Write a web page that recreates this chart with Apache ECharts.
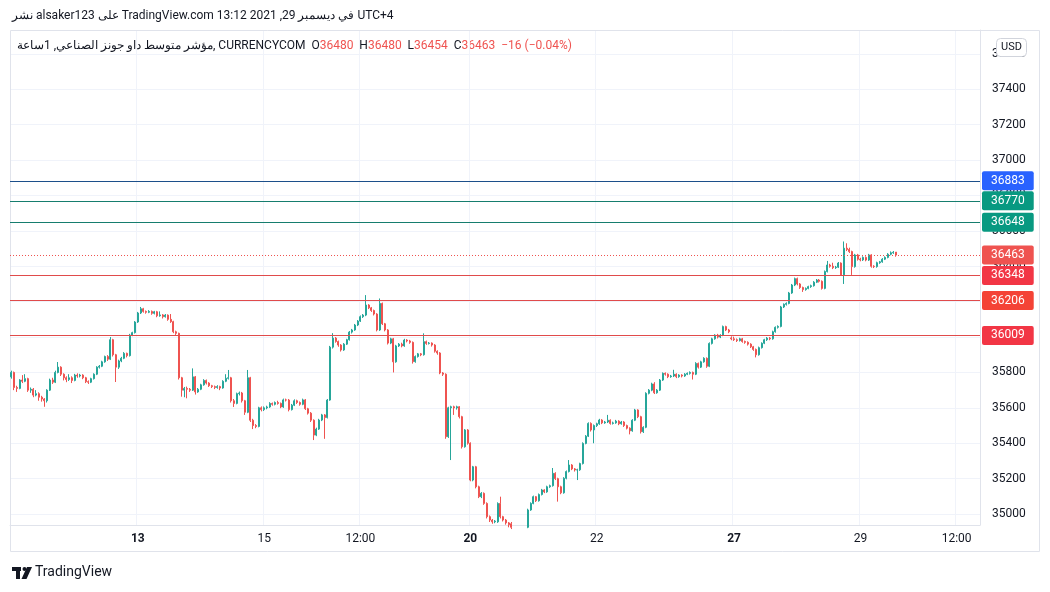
<!DOCTYPE html>
<html><head><meta charset="utf-8">
<script src="https://cdn.jsdelivr.net/npm/echarts@6/dist/echarts.min.js"></script>
<style>html,body{margin:0;padding:0;background:#fff}#c{width:1050px;height:592px}</style>
</head><body><div id="c"></div>
<script>
// [open, close, low, high] per 1-hour bar
const dec9 = [[35775,35800,35765,35810],[35800,35715,35700,35805],[35715,35710,35690,35725],[35710,35757,35705,35762],[35757,35750,35740,35785],[35750,35765,35745,35790],[35765,35700,35690,35770],[35700,35705,35685,35715],[35705,35672,35660,35712],[35672,35680,35665,35700],[35680,35660,35640,35688],[35660,35650,35635,35668],[35650,35640,35606,35655],[35640,35700,35630,35705],[35700,35757,35695,35765],[35757,35745,35735,35770],[35745,35800,35740,35810],[35800,35830,35795,35859],[35830,35790,35780,35835],[35790,35770,35755,35795],[35770,35760,35745,35778],[35760,35770,35752,35790],[35770,35755,35740,35778]];
const dec10 = [[35755,35785,35750,35792],[35785,35780,35770,35795],[35780,35785,35772,35792],[35785,35770,35762,35790],[35770,35748,35740,35775],[35748,35745,35735,35755],[35745,35765,35740,35770],[35765,35790,35760,35795],[35790,35830,35785,35835],[35830,35835,35822,35842],[35835,35860,35830,35866],[35860,35890,35855,35895],[35890,35875,35865,35898],[35875,35985,35870,36000],[35985,35900,35890,35990],[35900,35830,35746,35905],[35830,35865,35820,35872],[35865,35880,35858,35888],[35880,35908,35875,35915],[35908,35895,35885,35912],[35895,36011,35890,36018],[36011,36025,36005,36030],[36025,36085,36020,36090]];
const dec13 = [[36085,36136,36080,36142],[36136,36160,36130,36170],[36160,36145,36138,36165],[36145,36140,36132,36150],[36140,36145,36135,36152],[36145,36134,36126,36150],[36134,36143,36128,36148],[36143,36120,36112,36148],[36120,36125,36115,36145],[36125,36115,36105,36130],[36115,36124,36110,36130],[36124,36100,36092,36128],[36100,36087,36080,36130],[36087,36030,36022,36092],[36030,36021,36012,36036],[36021,35770,35760,36025],[35770,35700,35663,35775],[35700,35710,35660,35718],[35710,35705,35654,35720],[35705,35700,35690,35712],[35700,35775,35695,35823],[35775,35690,35675,35780],[35690,35705,35685,35712]];
const dec14 = [[35705,35730,35700,35736],[35730,35755,35725,35762],[35755,35740,35732,35760],[35740,35725,35718,35745],[35725,35720,35712,35730],[35720,35715,35706,35726],[35715,35720,35708,35728],[35720,35712,35700,35725],[35712,35750,35708,35756],[35750,35767,35745,35790],[35767,35770,35760,35814],[35770,35640,35630,35775],[35640,35625,35605,35650],[35625,35680,35620,35686],[35680,35684,35670,35692],[35684,35640,35630,35690],[35640,35575,35560,35645],[35575,35770,35570,35814],[35770,35530,35520,35775],[35530,35500,35480,35538],[35500,35495,35485,35508],[35495,35600,35490,35606],[35600,35590,35580,35608]];
const dec15 = [[35590,35600,35582,35608],[35600,35605,35592,35612],[35605,35625,35600,35632],[35625,35620,35612,35630],[35620,35630,35614,35636],[35630,35625,35618,35640],[35625,35605,35598,35630],[35605,35645,35600,35652],[35645,35644,35636,35652],[35644,35590,35580,35650],[35590,35615,35585,35622],[35615,35640,35610,35648],[35640,35630,35622,35646],[35630,35620,35612,35636],[35620,35645,35615,35652],[35645,35595,35588,35650],[35595,35570,35562,35600],[35570,35530,35520,35576],[35530,35446,35418,35535],[35446,35480,35440,35488],[35480,35531,35475,35538],[35531,35560,35525,35566],[35560,35545,35425,35565]];
const dec16 = [[35545,35644,35540,35650],[35644,35943,35640,35950],[35943,35994,35935,36022],[35994,35975,35968,36000],[35975,35955,35945,35980],[35955,35927,35918,35960],[35927,35960,35922,35966],[35960,35985,35955,35990],[35985,36028,35980,36034],[36028,36040,36020,36046],[36040,36068,36035,36074],[36068,36090,36062,36096],[36090,36115,36085,36122],[36115,36124,36108,36130],[36124,36181,36118,36237],[36181,36165,36158,36186],[36165,36150,36142,36170],[36150,36130,36122,36155],[36130,36040,36032,36135],[36040,36190,36035,36218],[36190,36075,36068,36195],[36075,36040,36032,36080],[36040,35966,35958,36045]];
const dec17 = [[35966,35990,35960,35996],[35990,35860,35800,35995],[35860,35950,35855,35956],[35950,35960,35944,35966],[35960,35950,35942,35968],[35950,35983,35945,35990],[35983,35978,35970,35988],[35978,35970,35962,35984],[35970,35861,35850,35975],[35861,35890,35855,35896],[35890,35905,35884,35910],[35905,35900,35892,35910],[35900,35974,35895,36021],[35974,35964,35956,35980],[35964,35966,35958,35972],[35966,35955,35946,35970],[35955,35920,35912,35960],[35920,35910,35900,35925],[35910,35797,35790,35915],[35797,35790,35780,35802],[35790,35437,35425,35795],[35437,35600,35430,35606],[35600,35606,35305,35612]];
const dec19 = [[35606,35600,35560,35612],[35600,35606,35590,35612],[35606,35550,35540,35610],[35550,35380,35370,35555],[35380,35475,35375,35480],[35475,35400,35392,35480]];
const dec20 = [[35400,35192,35185,35405],[35192,35267,35185,35272],[35267,35154,35145,35272],[35154,35098,35090,35160],[35098,35117,35090,35124],[35117,35060,35052,35122],[35060,34985,34975,35066],[34985,34966,34955,34992],[34966,34956,34945,34972],[34956,34960,34948,34966],[34956,35060,34950,35066],[35060,34985,34975,35098],[34985,34966,34958,34990],[34966,34950,34940,34972],[34950,34940,34925,34955],[34945,34925,34915,34955],[34925,34890,34880,34928],[34890,34860,34850,34895],[34860,34880,34850,34885],[34880,34900,34872,34905],[34900,34925,34895,34932],[34925,35023,34920,35030],[35023,35060,35018,35066]];
const dec21 = [[35060,35098,35055,35104],[35098,35075,35068,35102],[35075,35110,35070,35116],[35110,35136,35105,35142],[35136,35125,35118,35140],[35125,35154,35120,35160],[35154,35160,35148,35166],[35160,35230,35155,35260],[35230,35200,35192,35236],[35200,35154,35070,35205],[35154,35120,35112,35160],[35120,35202,35115,35208],[35202,35240,35196,35246],[35240,35277,35235,35305],[35277,35255,35248,35282],[35255,35249,35240,35260],[35249,35250,35192,35256],[35250,35285,35244,35290],[35285,35399,35280,35405],[35399,35440,35394,35446],[35440,35512,35435,35518],[35512,35475,35466,35518],[35475,35500,35400,35506]];
const dec22 = [[35500,35510,35492,35516],[35510,35531,35504,35538],[35531,35515,35508,35536],[35515,35520,35510,35526],[35520,35530,35514,35560],[35530,35512,35505,35535],[35512,35515,35506,35522],[35515,35525,35510,35532],[35525,35510,35502,35530],[35510,35520,35505,35526],[35520,35500,35492,35525],[35500,35485,35478,35505],[35485,35470,35450,35490],[35470,35530,35465,35536],[35530,35588,35525,35594],[35588,35550,35542,35592],[35550,35465,35455,35555],[35465,35490,35458,35496],[35490,35682,35485,35688],[35682,35700,35676,35706],[35700,35735,35694,35742],[35735,35685,35678,35745],[35685,35700,35680,35706]];
const dec23 = [[35700,35757,35695,35763],[35757,35795,35752,35800],[35795,35790,35782,35800],[35790,35776,35768,35795],[35776,35780,35770,35786],[35780,35790,35774,35815],[35790,35776,35768,35795],[35776,35785,35770,35790],[35785,35780,35772,35790],[35780,35790,35775,35796],[35790,35795,35785,35800],[35795,35800,35788,35806],[35800,35790,35760,35805],[35790,35851,35785,35858],[35851,35830,35822,35856],[35830,35860,35825,35866],[35860,35880,35855,35886],[35880,35835,35826,35885],[35835,35964,35830,35970],[35964,35990,35958,35996],[35990,36011,35985,36016],[36011,36000,35992,36018],[36000,36010,35994,36016]];
const dec24 = [[36010,36059,36005,36065],[36059,36040,36034,36064],[36040,36030,36022,36046],[35995,35990,35982,36004]];
const dec27 = [[35990,35985,35978,36002],[35985,35980,35972,35992],[35980,35990,35975,35996],[35990,35975,35968,35995],[35975,35970,35962,35980],[35970,35960,35952,35976],[35960,35945,35938,35965],[35945,35930,35922,35950],[35930,35900,35885,35935],[35900,35940,35895,35946],[35940,35965,35935,35970],[35965,35985,35960,35990],[35985,35994,35978,36000],[35994,35990,35982,36000],[35990,36030,35985,36036],[36030,36055,36025,36060],[36055,36060,36048,36066],[36060,36170,36055,36176],[36170,36185,36164,36190],[36185,36190,36178,36196],[36190,36249,36185,36255],[36249,36294,36244,36300],[36294,36330,36288,36336]];
const dec28 = [[36330,36300,36292,36336],[36300,36280,36272,36305],[36280,36268,36255,36285],[36268,36275,36262,36280],[36275,36285,36270,36290],[36285,36290,36278,36296],[36290,36310,36285,36316],[36310,36322,36305,36328],[36322,36315,36308,36328],[36315,36275,36268,36320],[36275,36370,36270,36376],[36370,36407,36365,36430],[36407,36400,36392,36414],[36400,36392,36384,36420],[36392,36395,36385,36402],[36395,36418,36390,36424],[36418,36351,36345,36422],[36351,36502,36300,36540],[36502,36495,36486,36530],[36495,36483,36475,36505],[36483,36398,36351,36488],[36398,36464,36392,36470],[36464,36440,36432,36470]];
const dec29 = [[36440,36436,36428,36448],[36436,36450,36430,36456],[36450,36435,36428,36456],[36435,36464,36430,36470],[36464,36400,36392,36468],[36400,36398,36390,36406],[36398,36420,36392,36426],[36420,36425,36414,36430],[36425,36440,36420,36446],[36440,36450,36435,36456],[36450,36468,36445,36474],[36468,36476,36462,36484],[36476,36479,36470,36486],[36480,36463,36454,36480]];

// day label, first hour, bars
const days = [['9',0,dec9],['10',0,dec10],['13',0,dec13],['14',0,dec14],['15',0,dec15],['16',0,dec16],['17',0,dec17],['19',17,dec19],['20',0,dec20],['21',0,dec21],['22',0,dec22],['23',0,dec23],['24',0,dec24],['27',0,dec27],['28',0,dec28],['29',0,dec29]];
// empty future hours on the time axis: day, first hour, count
const futureHours = [['29',14,9],['30',0,21]];

const priceTicks = [35000,35200,35400,35600,35800,36000,36200,36400,36600,36800,37000,37200,37400,37600];
const timeTicks = {'13 00:00':'13','15 00:00':'15','16 12:00':'12:00','20 00:00':'20','22 00:00':'22','27 00:00':'27','29 00:00':'29','30 12:00':'12:00'};
const weekStarts = ['13','20','27'];

const levelValues = [36883, 36770, 36648, 36348, 36206, 36009];
const levelColors = [['#2962ff','#1c4f8a'],['#089981','#167d6e'],['#089981','#167d6e'],['#f23645','#e04b4b'],['#f44336','#e04b4b'],['#f23645','#e04b4b']];

const titleLine = 'نشر alsaker123 على TradingView.com في ديسمبر 29, 2021 13:12 UTC+4';
const symbolLine = 'مؤشر متوسط داو جونز الصناعي, 1ساعة, CURRENCYCOM';

const pad = n => (n < 10 ? '0' : '') + n;
const categories = [], ohlc = [];
days.forEach(([d, h0, rows]) => rows.forEach((r, k) => { categories.push(d + ' ' + pad(h0 + k) + ':00'); ohlc.push(r); }));
futureHours.forEach(([d, h0, n]) => { for (let k = 0; k < n; k++) categories.push(d + ' ' + pad(h0 + k) + ':00'); });

const last = ohlc[ohlc.length - 1], prevClose = ohlc[ohlc.length - 2][1];
const chg = last[1] - prevClose;
const chgPct = (chg / prevClose * 100).toFixed(2);
const minus = v => String(v).replace('-', '\u2212');

const UP = '#26a69a', DOWN = '#ef5350', TXT = '#131722', GRID = '#f0f3fa', BORDER = '#e0e3eb';
const FONT = 'Roboto, "Liberation Sans", sans-serif';
const HFONT = '12px ' + FONT;

const tagLabel = (v, bg) => ({ show: true, position: 'end', distance: 2, formatter: String(v), backgroundColor: bg, color: '#fff', padding: [4, 9, 3, 9], borderRadius: 2, fontSize: 12, fontFamily: FONT });
const lineData = levelValues.map((v, i) => ({
  yAxis: v,
  lineStyle: { color: levelColors[i][1], type: 'solid', width: 1 },
  label: tagLabel(v, levelColors[i][0])
}));
lineData.push({ yAxis: last[1], lineStyle: { color: DOWN, type: [1, 2], width: 1 }, label: tagLabel(last[1], '#ef5350') });

// legend line pieces, laid out one after another by measured width
const legendParts = [
  [symbolLine + '  ', TXT], ['O', TXT], [String(last[0]), DOWN], ['  H', TXT], [String(last[3]), DOWN],
  ['  L', TXT], [String(last[2]), DOWN], ['  C', TXT], [String(last[1]), DOWN],
  ['  ' + minus(chg) + ' (' + minus(chgPct) + '%)', DOWN]
];
const mctx = document.createElement('canvas').getContext('2d');
mctx.font = HFONT;
let lx = 17;
const legendEls = legendParts.map(([t, c]) => {
  const el = { type: 'text', x: lx, y: 46, style: { text: t, font: HFONT, fill: c, align: 'left', verticalAlign: 'middle' } };
  lx += mctx.measureText(t).width;
  return el;
});

const chart = echarts.init(document.getElementById('c'), null, { renderer: 'canvas' });
chart.setOption({
  animation: false,
  backgroundColor: '#fff',
  grid: { left: 10, right: 70, top: 30, bottom: 67 },
  xAxis: {
    type: 'category', data: categories, boundaryGap: true,
    axisLine: { show: true, lineStyle: { color: BORDER } },
    axisTick: { show: false },
    axisLabel: {
      interval: 0, margin: 8, color: TXT, fontSize: 12, fontFamily: FONT,
      formatter: v => timeTicks[v] ? (weekStarts.includes(timeTicks[v]) ? '{b|' + timeTicks[v] + '}' : timeTicks[v]) : '',
      rich: { b: { fontWeight: 'bold', fontSize: 12, color: TXT, fontFamily: FONT } }
    },
    splitLine: { show: true, interval: (i, v) => !!timeTicks[v], lineStyle: { color: GRID, width: 1 } }
  },
  yAxis: {
    type: 'value', position: 'right', min: 34938, max: 37735, scale: true,
    axisLine: { show: true, lineStyle: { color: BORDER } },
    axisTick: { show: false, customValues: priceTicks },
    axisLabel: { customValues: priceTicks, margin: 12, color: TXT, fontSize: 12, fontFamily: FONT, formatter: v => String(v) },
    splitLine: { show: true, lineStyle: { color: GRID, width: 1 } }
  },
  series: [{
    type: 'candlestick', data: ohlc, barWidth: 1.5, clip: true,
    itemStyle: { color: UP, color0: DOWN, borderColor: UP, borderColor0: DOWN, borderWidth: 1 },
    markLine: { symbol: 'none', silent: true, animation: false, data: lineData, z: 10 }
  }],
  graphic: [
    { type: 'rect', silent: true, shape: { x: 10.5, y: 30.5, width: 1029, height: 521 }, style: { fill: 'none', stroke: BORDER, lineWidth: 1 }, z: 1 },
    { type: 'text', x: 12, y: 16, style: { text: titleLine, font: HFONT, fill: TXT, align: 'left', verticalAlign: 'middle' } },
    ...legendEls,
    { type: 'rect', shape: { x: 996.5, y: 38.5, width: 30, height: 18, r: 4 }, style: { fill: '#fff', stroke: '#d1d4dc' }, z: 100 },
    { type: 'text', x: 1011.5, y: 47.5, style: { text: 'USD', font: '11px ' + FONT, fill: TXT, align: 'center', verticalAlign: 'middle' }, z: 101 },
    { type: 'rect', shape: { x: 12, y: 567, width: 9, height: 4 }, style: { fill: '#131722' } },
    { type: 'rect', shape: { x: 16, y: 567, width: 4, height: 12 }, style: { fill: '#131722' } },
    { type: 'circle', shape: { cx: 24.5, cy: 569, r: 2 }, style: { fill: '#131722' } },
    { type: 'polygon', shape: { points: [[27, 567], [32, 567], [26.5, 579], [21.5, 579]] }, style: { fill: '#131722' } },
    { type: 'text', left: 35, top: 565, style: { text: 'TradingView', font: '14px ' + FONT, fill: TXT } }
  ]
});
</script>
</body></html>
